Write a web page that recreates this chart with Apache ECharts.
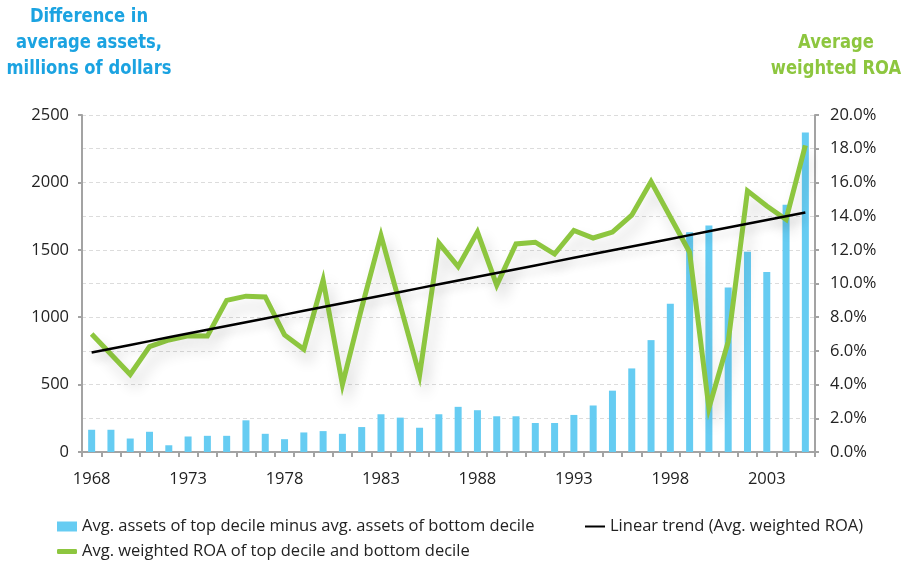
<!DOCTYPE html>
<html>
<head>
<meta charset="utf-8">
<script src="https://cdn.jsdelivr.net/npm/echarts@6/dist/echarts.min.js"></script>
<style>html,body{margin:0;padding:0;background:#fff}#c{width:905px;height:561px}</style>
</head>
<body>
<div id="c"></div>
<script>
const years = ['1968','1969','1970','1971','1972','1973','1974','1975','1976','1977','1978','1979','1980','1981','1982','1983','1984','1985','1986','1987','1988','1989','1990','1991','1992','1993','1994','1995','1996','1997','1998','1999','2000','2001','2002','2003','2004','2005'];
const assetDiff = [165,165,100,150,50,115,120,120,235,135,95,145,155,135,185,280,255,180,280,335,310,265,265,215,215,275,345,455,620,830,1100,1630,1680,1220,1485,1335,1835,2370];
const roa = [7.0,5.8,4.6,6.25,6.65,6.9,6.88,9.0,9.25,9.2,6.95,6.1,10.2,4.0,8.55,12.85,8.7,4.55,12.4,11.0,13.05,9.9,12.35,12.45,11.75,13.15,12.7,13.05,14.05,16.05,13.95,11.85,2.6,6.55,15.5,14.6,13.8,18.2];
const leftTicks = [0,500,1000,1500,2000,2500];
const rightTicks = [0,2,4,6,8,10,12,14,16,18,20];

const seriesNames = [
  'Avg. assets of top decile minus avg. assets of bottom decile',
  'Avg. weighted ROA of top decile and bottom decile',
  'Linear trend (Avg. weighted ROA)'
];

// least-squares linear trend of the ROA series
const n = roa.length;
const mx = (n - 1) / 2;
const my = roa.reduce((a, b) => a + b, 0) / n;
let sxy = 0, sxx = 0;
roa.forEach((v, i) => { sxy += (i - mx) * (v - my); sxx += (i - mx) * (i - mx); });
const slope = sxy / sxx;
const trend = roa.map((_, i) => my + slope * (i - mx));

const FONT = 'Open Sans';
const FS = 16.5;
const TITLE_FONT = 'bold 20px "DejaVu Sans Condensed", Lato, sans-serif';
const chart = echarts.init(document.getElementById('c'), null, {renderer: 'canvas'});
const axisGray = '#A3A3A3';
chart.setOption({
  animation: false,
  backgroundColor: '#fff',
  grid: {left: 82, right: 90, top: 115, bottom: 109, containLabel: false},
  graphic: [
    {type: 'text', x: 89, y: 4, scaleX: 0.91, style: {text: 'Difference in\naverage assets,\nmillions of dollars', textAlign: 'center', textVerticalAlign: 'top', fill: '#1BA3E1', font: TITLE_FONT, lineHeight: 26}},
    {type: 'text', x: 836, y: 30, scaleX: 0.91, style: {text: 'Average\nweighted ROA', textAlign: 'center', textVerticalAlign: 'top', fill: '#8DC63F', font: TITLE_FONT, lineHeight: 26}}
  ],
  legend: [
    {data: [{name: seriesNames[0], icon: 'rect'}], left: 52, top: 513, itemWidth: 20, itemHeight: 10, textStyle: {fontFamily: FONT, fontSize: FS, color: '#222'}, selectedMode: false},
    {data: [{name: seriesNames[2], icon: 'rect', itemStyle: {color: '#000'}}], left: 580, top: 513, itemWidth: 20, itemHeight: 2, textStyle: {fontFamily: FONT, fontSize: FS, color: '#222'}, selectedMode: false},
    {data: [{name: seriesNames[1], icon: 'roundRect'}], left: 52, top: 538, itemWidth: 20, itemHeight: 5, textStyle: {fontFamily: FONT, fontSize: FS, color: '#222'}, selectedMode: false}
  ],
  xAxis: {
    type: 'category', data: years, boundaryGap: true,
    axisLine: {lineStyle: {color: axisGray, width: 2}},
    axisTick: {show: true, interval: 0, length: 5, lineStyle: {color: axisGray, width: 2}},
    axisLabel: {interval: 4, margin: 19, fontFamily: FONT, fontSize: FS, color: '#222'}
  },
  yAxis: [
    {type: 'value', min: 0, max: 2500, interval: 500, position: 'left',
     axisLine: {show: true, lineStyle: {color: axisGray, width: 2}},
     axisTick: {show: true, length: 4, lineStyle: {color: axisGray, width: 2}},
     axisLabel: {margin: 13, fontFamily: FONT, fontSize: FS, color: '#222', formatter: v => String(v)},
     splitLine: {show: false}},
    {type: 'value', min: 0, max: 20, interval: 2, position: 'right',
     axisLine: {show: true, lineStyle: {color: axisGray, width: 2}},
     axisTick: {show: true, length: 4, lineStyle: {color: axisGray, width: 2}},
     axisLabel: {margin: 15, fontFamily: FONT, fontSize: FS, color: '#222', formatter: v => v.toFixed(1) + '%'},
     splitLine: {show: true, lineStyle: {color: '#DCDCDC', type: [4, 3], width: 1}}}
  ],
  series: [
    {name: seriesNames[0], type: 'bar', data: assetDiff, yAxisIndex: 0, barWidth: 7, itemStyle: {color: '#66CCF2'}},
    {name: seriesNames[1], type: 'line', data: roa, yAxisIndex: 1, symbol: 'none',
     lineStyle: {color: '#8DC63F', width: 5, join: 'miter', shadowColor: 'rgba(0,0,0,0.16)', shadowBlur: 14, shadowOffsetX: 5, shadowOffsetY: 10},
     itemStyle: {color: '#8DC63F'}},
    {name: seriesNames[2], type: 'line', data: trend, yAxisIndex: 1, symbol: 'none',
     lineStyle: {color: '#000', width: 2.5, shadowColor: 'rgba(0,0,0,0.15)', shadowBlur: 8, shadowOffsetY: 6},
     itemStyle: {color: '#000'}}
  ]
});
</script>
</body>
</html>
